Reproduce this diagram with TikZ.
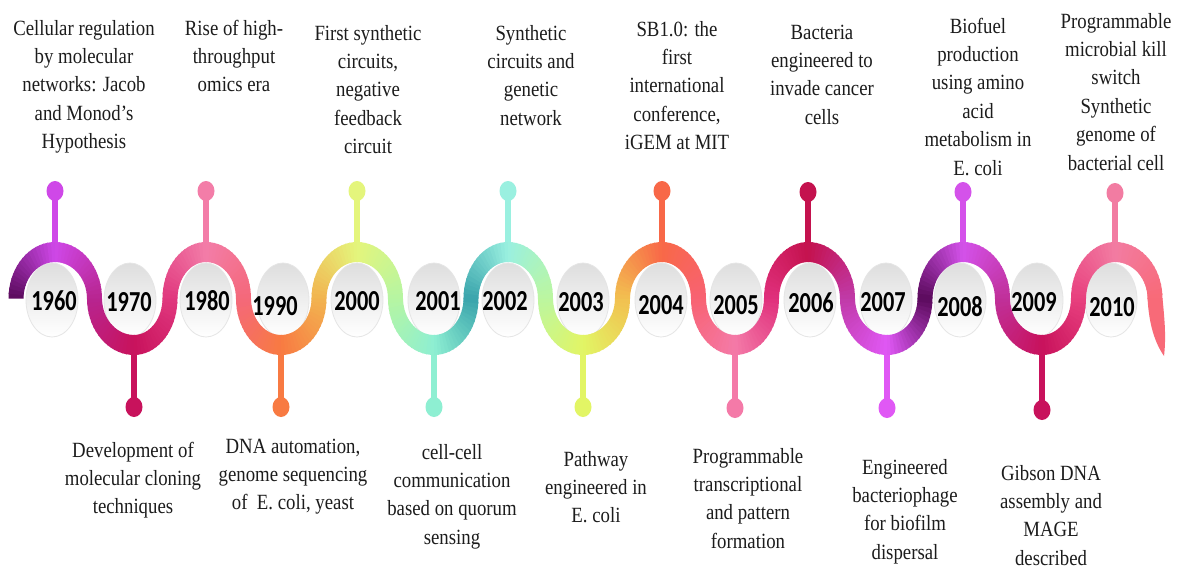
\documentclass[tikz,border=0pt]{standalone}
\usepackage{fontspec}
\setmainfont{Liberation Serif}
\newfontfamily\yearfont{Carlito}
\usetikzlibrary{shapes.geometric}
\def\hx{7.5}\def\hy{10}\def\ymid{298.5}
% colours along the ribbon
\definecolor{kS}{HTML}{5A0A5C}
\definecolor{p60}{HTML}{CF48E8}
\definecolor{c1}{HTML}{B82590}
\definecolor{t70}{HTML}{C8125C}
\definecolor{c2}{HTML}{E0387E}
\definecolor{p80}{HTML}{F37DA8}
\definecolor{c3}{HTML}{F4687A}
\definecolor{t90}{HTML}{F87A42}
\definecolor{c4}{HTML}{F2B450}
\definecolor{p00}{HTML}{E4F57C}
\definecolor{c5}{HTML}{B6F5A2}
\definecolor{t01}{HTML}{8EEFD2}
\definecolor{c6}{HTML}{3AA4AC}
\definecolor{p02}{HTML}{9AF0E0}
\definecolor{c7}{HTML}{BCF6A0}
\definecolor{t03}{HTML}{E2F565}
\definecolor{c8}{HTML}{F2C050}
\definecolor{p04}{HTML}{F86848}
\definecolor{c9}{HTML}{F86272}
\definecolor{t05}{HTML}{F47AA8}
\definecolor{c10}{HTML}{E0307C}
\definecolor{p06}{HTML}{C4124E}
\definecolor{c11}{HTML}{C03AA8}
\definecolor{t07}{HTML}{E058F5}
\definecolor{c12}{HTML}{5A0A5C}
\definecolor{p08}{HTML}{D452EA}
\definecolor{c13}{HTML}{C0309A}
\definecolor{t09}{HTML}{C8125C}
\definecolor{c14}{HTML}{E8407E}
\definecolor{p10}{HTML}{F27CA2}
\definecolor{c15}{HTML}{F86A78}
\definecolor{txt}{HTML}{1C1C1C}
% quarter from midline to extreme
\newcommand\ribup[6]{%
  \pgfmathsetmacro\rcx{#3}\pgfmathsetmacro\rcy{#2}%
  \pgfmathsetmacro\rrx{#3-#1}\pgfmathsetmacro\rry{#4-#2}%
  \pgfmathsetmacro\rsy{sign(\rry)}%
  \pgfmathsetmacro\oX{\rrx+\hx}\pgfmathsetmacro\oY{\rry+\hy*\rsy}%
  \pgfmathsetmacro\iX{\rrx-\hx}\pgfmathsetmacro\iY{\rry-\hy*\rsy}%
  \foreach \i in {0,...,17}{%
    \pgfmathsetmacro\ta{5*\i}\pgfmathsetmacro\tb{5*\i+6.2}%
    \pgfmathtruncatemacro\pc{round(100-100*(\i+0.5)/18)}%
    \fill[#5!\pc!#6] ({\rcx-\oX*cos(\ta)},{\rcy+\oY*sin(\ta)}) -- ({\rcx-\oX*cos(\tb)},{\rcy+\oY*sin(\tb)}) -- ({\rcx-\iX*cos(\tb)},{\rcy+\iY*sin(\tb)}) -- ({\rcx-\iX*cos(\ta)},{\rcy+\iY*sin(\ta)}) -- cycle;
  }}
% quarter from extreme to midline
\newcommand\ribdn[6]{%
  \pgfmathsetmacro\rcx{#1}\pgfmathsetmacro\rcy{#4}%
  \pgfmathsetmacro\rrx{#3-#1}\pgfmathsetmacro\rry{#2-#4}%
  \pgfmathsetmacro\rsy{sign(\rry)}%
  \pgfmathsetmacro\oX{\rrx+\hx}\pgfmathsetmacro\oY{\rry+\hy*\rsy}%
  \pgfmathsetmacro\iX{\rrx-\hx}\pgfmathsetmacro\iY{\rry-\hy*\rsy}%
  \foreach \i in {0,...,17}{%
    \pgfmathsetmacro\ta{5*\i}\pgfmathsetmacro\tb{5*\i+6.2}%
    \pgfmathtruncatemacro\pc{round(100-100*(\i+0.5)/18)}%
    \fill[#5!\pc!#6] ({\rcx+\oX*sin(\ta)},{\rcy+\oY*cos(\ta)}) -- ({\rcx+\oX*sin(\tb)},{\rcy+\oY*cos(\tb)}) -- ({\rcx+\iX*sin(\tb)},{\rcy+\iY*cos(\tb)}) -- ({\rcx+\iX*sin(\ta)},{\rcy+\iY*cos(\ta)}) -- cycle;
  }}
% half wave: x0, xe, x1, ye, c0, ce, c1
\newcommand\halfw[7]{%
  \ribup{#1}{\ymid}{#2}{#4}{#5}{#6}%
  \ribdn{#2}{#4}{#3}{\ymid}{#6}{#7}}
\tikzset{
  evt/.style={align=center, font=\fontsize{21.7}{28.4}\selectfont, xscale=0.866, inner sep=0pt, text=txt, anchor=base},
  yr/.style={font=\yearfont\bfseries\fontsize{29}{32}\selectfont, xscale=0.77, inner sep=0pt, text=black},
  bub/.style={ellipse, minimum width=52, minimum height=74, inner sep=0pt, top color=black!13, bottom color=white, draw=black!10, line width=0.8pt},
  pin/.style={ellipse, minimum width=17, minimum height=20, inner sep=0pt, draw=none},
  stem/.style={line width=5.5pt}
}
\begin{document}
\begin{tikzpicture}[x=1pt,y=-1pt]
\useasboundingbox (0,0) rectangle (1180,568);
\fill[white] (0,0) rectangle (1180,568);
% background bubbles
\foreach \nm/\xx in {1960/52,1970/130,1980/206,1990/283,2000/357,2001/434,2002/508,2003/583,2004/661,2005/736,2006/810,2007/886,2008/960,2009/1037,2010/1111}{
  \node[bub] (e\nm) at (\xx,300) {};
}
% pins
\foreach \nm/\xx/\yy/\cc/\ry in {1960/55/191/p60/252,1980/206/191/p80/252,2000/357/191/p00/252,2002/508/191/p02/252,2004/662/191/p04/252,2006/808/192/p06/252,2008/963/192/p08/252,2010/1115/193/p10/252,
  1970/134/407/t70/345,1990/281/407/t90/345,2001/434/407/t01/345,2003/583/407/t03/345,2005/735/408/t05/345,2007/887/408/t07/345,2009/1042/410/t09/345}{
  \node[pin, fill=\cc] (d\nm) at (\xx,\yy) {};
  \coordinate (r\nm) at (\xx,\ry);
  \draw[stem, draw=\cc] (d\nm.center) -- (r\nm);
}
% ribbon
\halfw{16}{55}{94.5}{252}{kS}{p60}{c1}
\halfw{94.5}{134}{170}{345}{c1}{t70}{c2}
\halfw{170}{206}{243.5}{252}{c2}{p80}{c3}
\halfw{243.5}{281}{319}{345}{c3}{t90}{c4}
\halfw{319}{357}{395.5}{252}{c4}{p00}{c5}
\halfw{395.5}{434}{471}{345}{c5}{t01}{c6}
\halfw{471}{508}{545.5}{252}{c6}{p02}{c7}
\halfw{545.5}{583}{622.5}{345}{c7}{t03}{c8}
\halfw{622.5}{662}{698.5}{252}{c8}{p04}{c9}
\halfw{698.5}{735}{771.5}{345}{c9}{t05}{c10}
\halfw{771.5}{808}{847.5}{252}{c10}{p06}{c11}
\halfw{847.5}{887}{925}{345}{c11}{t07}{c12}
\halfw{925}{963}{1002.5}{252}{c12}{p08}{c13}
\halfw{1002.5}{1042}{1078.5}{345}{c13}{t09}{c14}
\halfw{1078.5}{1115}{1155}{252}{c14}{p10}{c15}
\fill[c15] (1147.5,298) .. controls (1149,325) and (1155,343) .. (1164,356) .. controls (1166.5,335) and (1164,315) .. (1162.5,298) -- cycle;
% year labels
\foreach \nm/\xx/\yy in {1960/54/301,1970/129/302,1980/207/301,1990/275/306,2000/357/301,2001/438/301,2002/505/301,2003/581/302,2004/661/305,2005/736/305,2006/811/303,2007/883/302,2008/960/307,2009/1034/302,2010/1112/307}{
  \node[yr] (y\nm) at (\xx,\yy) {\nm};
}
% event texts (top); anchor is the baseline of the last line
\node[evt] (t1960) at (84,148.6) {Cellular regulation\\by molecular\\networks: Jacob\\and Monod’s\\Hypothesis};
\node[evt] (t1980) at (234,91.8) {Rise of high-\\throughput\\omics era};
\node[evt] (t2000) at (368,153.6) {First synthetic\\circuits,\\negative\\feedback\\circuit};
\node[evt] (t2002) at (531,125.2) {Synthetic\\circuits and\\genetic\\network};
\node[evt] (t2004) at (677,149.6) {SB1.0: the\\first\\international\\conference,\\iGEM at MIT};
\node[evt] (t2006) at (822,124.2) {Bacteria\\engineered to\\invade cancer\\cells};
\node[evt] (t2008) at (978,175) {Biofuel\\production\\using amino\\acid\\metabolism in\\E. coli};
\node[evt] (t2010) at (1116,170) {Programmable\\microbial kill\\switch\\Synthetic\\genome of\\bacterial cell};
% event texts (bottom)
\node[evt] (t1970) at (133,513.8) {Development of\\molecular cloning\\techniques};
\node[evt] (t1990) at (293,509.8) {DNA automation,\\genome sequencing\\of~ E. coli, yeast};
\node[evt] (t2001) at (452,544.2) {cell-cell\\communication\\based on quorum\\sensing};
\node[evt] (t2003) at (596,522.8) {Pathway\\engineered in\\E. coli};
\node[evt] (t2005) at (748,548.2) {Programmable\\transcriptional\\and pattern\\formation};
\node[evt] (t2007) at (905,559.2) {Engineered\\bacteriophage\\for biofilm\\dispersal};
\node[evt] (t2009) at (1051,565.2) {Gibson DNA\\assembly and\\MAGE\\described};
\end{tikzpicture}
\end{document}
